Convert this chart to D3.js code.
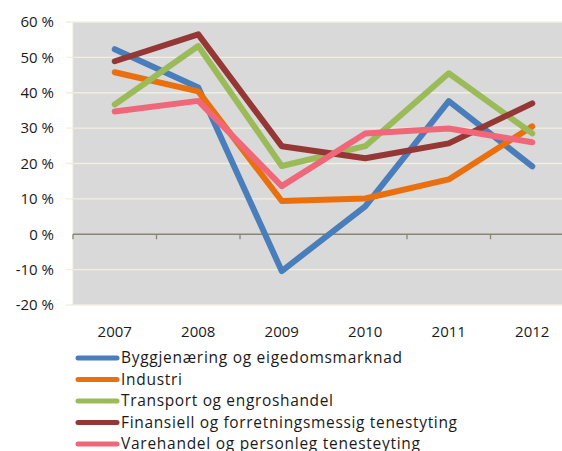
<!DOCTYPE html>
<html><head><meta charset="utf-8">
<script src="https://cdn.jsdelivr.net/npm/d3@7"></script>
<style>
body{margin:0;background:#fff;}
svg{display:block;font-family:"Open Sans",sans-serif;}
</style></head>
<body>
<svg id="c" width="562" height="451"></svg>
<script>
const years = ["2007","2008","2009","2010","2011","2012"];
const seriesNames = [
  "Byggjenæring og eigedomsmarknad",
  "Industri",
  "Transport og engroshandel",
  "Finansiell og forretningsmessig tenestyting",
  "Varehandel og personleg tenesteyting"
];
const bygg      = [52.3, 41.5, -10.4, 7.9, 37.6, 19.2];
const industri  = [45.8, 40.4, 9.4, 10.1, 15.5, 30.5];
const transport = [36.7, 53.2, 19.3, 24.9, 45.5, 28.5];
const finans    = [48.9, 56.5, 24.9, 21.5, 25.7, 37.0];
const varehandel= [34.7, 37.7, 13.6, 28.5, 29.9, 26.0];
const yTicks = [-20,-10,0,10,20,30,40,50,60];
const colors = ["#4a7ebb","#ea700f","#9bbb59","#953735","#f0677a"];

const allSeries = [bygg, industri, transport, finans, varehandel];
const svg = d3.select("#c");
const L = 73, R = 574, T = 22, B = 305;
const x = d3.scaleBand().domain(years).range([L, R]);
const y = d3.scaleLinear().domain([-20, 60]).range([B, T]);

svg.append("rect").attr("x", L).attr("y", T).attr("width", R - L).attr("height", B - T).attr("fill", "#d9d9d9");

// gridlines
svg.append("g").selectAll("line").data(yTicks.filter(d => d !== 0)).join("line")
  .attr("x1", L - 7).attr("x2", R).attr("y1", d => y(d)).attr("y2", d => y(d))
  .attr("stroke", "#f2efe0").attr("stroke-width", 1.3);
svg.append("line").attr("x1", L).attr("x2", L).attr("y1", T).attr("y2", B).attr("stroke", "#e8e6da").attr("stroke-width", 1);

// y labels
svg.append("g").selectAll("text").data(yTicks).join("text")
  .attr("x", 54).attr("y", d => y(d)).attr("dy", "0.35em").attr("text-anchor", "end")
  .attr("font-size", 15).attr("fill", "#1a1a1a").text(d => d + " %");

// zero axis
svg.append("line").attr("x1", L).attr("x2", R).attr("y1", y(0)).attr("y2", y(0)).attr("stroke", "#868672").attr("stroke-width", 1.3);
const bounds = years.map(d => x(d)).concat([R]);
svg.append("g").selectAll("line").data(bounds).join("line")
  .attr("x1", d => d).attr("x2", d => d).attr("y1", y(0)).attr("y2", y(0) + 5)
  .attr("stroke", "#868672").attr("stroke-width", 1.3);

// x labels
svg.append("g").selectAll("text").data(years).join("text")
  .attr("x", d => x(d) + x.bandwidth() / 2).attr("y", 332).attr("dy", "0.35em")
  .attr("text-anchor", "middle").attr("font-size", 15).attr("fill", "#1a1a1a").text(d => d);

// lines
const line = d3.line().x((d, i) => x(years[i]) + x.bandwidth() / 2).y(d => y(d));
svg.append("g").selectAll("path").data(allSeries).join("path")
  .attr("d", line).attr("fill", "none").attr("stroke", (d, i) => colors[i])
  .attr("stroke-width", 6).attr("stroke-linejoin", "round").attr("stroke-linecap", "round");

// legend
const legendW = [281, 61, 212, 336, 299];
const lg = svg.append("g").selectAll("g").data(seriesNames).join("g")
  .attr("transform", (d, i) => `translate(0,${358 + i * 21.5})`);
lg.append("line").attr("x1", 78).attr("x2", 117).attr("y1", 0).attr("y2", 0)
  .attr("stroke", (d, i) => colors[i]).attr("stroke-width", 5).attr("stroke-linecap", "round");
lg.append("text").attr("x", 121).attr("y", 0).attr("dy", "0.35em").attr("font-size", 15.5)
  .attr("textLength", (d, i) => legendW[i]).attr("lengthAdjust", "spacing")
  .attr("fill", "#1a1a1a").text(d => d);
</script>
</body></html>
